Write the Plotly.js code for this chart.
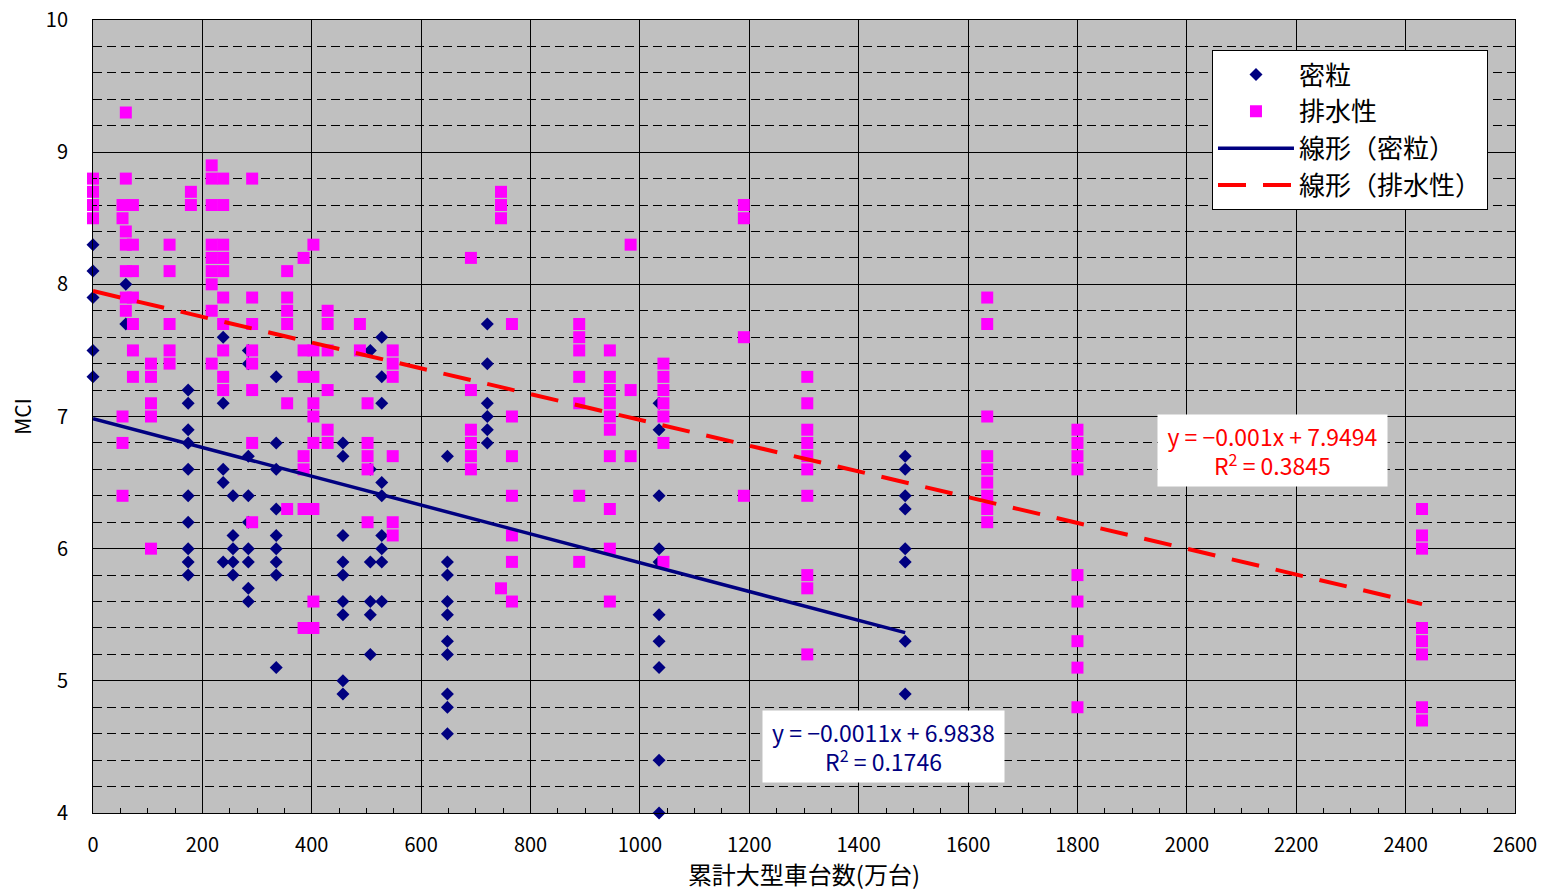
<!DOCTYPE html>
<html><head><meta charset="utf-8">
<script src="https://cdn.plot.ly/plotly-3.0.1.min.js"></script>
<style>html,body{margin:0;padding:0;background:#fff}#chart{width:1543px;height:891px}</style>
</head><body><div id="chart"></div>
<script>
const FONT = '"Noto Sans CJK JP", "Noto Sans", sans-serif';

// 密粒: cumulative heavy vehicles (x) per column and MCI values at that x
const denseX = [0, 60, 174, 238, 256, 284, 335, 457, 507, 528, 648, 721, 1035, 1485];
const denseMCI = [
  [8.3, 8.1, 7.9, 7.5, 7.3],
  [8.0, 7.7],
  [7.2, 7.1, 6.9, 6.8, 6.6, 6.4, 6.2, 6.0, 5.9, 5.8],
  [7.6, 7.1, 6.6, 6.5, 5.9],
  [6.4, 6.1, 6.0, 5.9, 5.8],
  [7.5, 7.4, 6.7, 6.4, 6.2, 6.0, 5.9, 5.7, 5.6],
  [7.3, 6.8, 6.6, 6.3, 6.1, 6.0, 5.9, 5.8, 5.1],
  [6.8, 6.7, 6.1, 5.9, 5.8, 5.6, 5.5, 5.0, 4.9],
  [7.5, 6.6, 5.9, 5.6, 5.5, 5.2],
  [7.6, 7.3, 7.1, 6.5, 6.4, 6.1, 6.0, 5.9, 5.6],
  [6.7, 5.9, 5.8, 5.6, 5.5, 5.3, 5.2, 4.9, 4.8, 4.6],
  [7.7, 7.4, 7.1, 7.0, 6.9, 6.8],
  [7.1, 6.9, 6.4, 6.0, 5.9, 5.5, 5.3, 5.1, 4.4, 4.0],
  [6.7, 6.6, 6.4, 6.3, 6.0, 5.9, 5.3, 4.9]
];

// 排水性
const drainX = [0, 54, 60, 73, 106, 140, 179, 217, 238, 291, 355, 385, 403, 429, 488, 502, 548, 691, 746, 766, 889, 945, 983, 1043, 1190, 1306, 1635, 1800, 2430];
const drainMCI = [
  [8.8, 8.7, 8.6, 8.5],
  [8.6, 8.5, 7.0, 6.8, 6.4],
  [9.3, 8.8, 8.4, 8.3, 8.1, 7.9, 7.8],
  [8.6, 8.3, 8.1, 7.9, 7.7, 7.5, 7.3],
  [7.4, 7.3, 7.1, 7.0, 6.0],
  [8.3, 8.1, 7.7, 7.5, 7.4],
  [8.7, 8.6],
  [8.9, 8.8, 8.6, 8.3, 8.2, 8.1, 8.0, 7.8, 7.4],
  [8.8, 8.6, 8.3, 8.2, 8.1, 7.9, 7.7, 7.5, 7.3, 7.2],
  [8.8, 7.9, 7.7, 7.5, 7.4, 7.2, 6.8, 6.2],
  [8.1, 7.9, 7.8, 7.7, 7.1, 6.3],
  [8.2, 7.5, 7.3, 6.7, 6.6, 6.3, 5.4],
  [8.3, 7.5, 7.3, 7.1, 7.0, 6.8, 6.3, 5.6, 5.4],
  [7.8, 7.7, 7.5, 7.2, 6.9, 6.8],
  [7.7, 7.5],
  [7.1, 6.8, 6.7, 6.6, 6.2],
  [7.5, 7.4, 7.3, 6.7, 6.2, 6.1],
  [8.2, 7.2, 6.9, 6.8, 6.7, 6.6],
  [8.7, 8.6, 8.5, 5.7],
  [7.7, 7.0, 6.7, 6.4, 6.1, 5.9, 5.6],
  [7.7, 7.6, 7.5, 7.3, 7.1, 6.4, 5.9],
  [7.5, 7.3, 7.2, 7.1, 7.0, 6.9, 6.7, 6.3, 6.0, 5.6],
  [8.3, 7.2, 6.7],
  [7.4, 7.3, 7.2, 7.1, 7.0, 6.8, 5.9],
  [8.6, 8.5, 7.6, 6.4],
  [7.3, 7.1, 6.9, 6.8, 6.7, 6.6, 6.4, 5.8, 5.7, 5.2],
  [7.9, 7.7, 7.0, 6.7, 6.6, 6.5, 6.4, 6.3, 6.2],
  [6.9, 6.8, 6.7, 6.6, 5.8, 5.6, 5.3, 5.1, 4.8],
  [6.3, 6.1, 6.0, 5.4, 5.3, 5.2, 4.8, 4.7]
];

const seriesNames = ['密粒', '排水性', '線形（密粒）', '線形（排水性）'];
const trendSlope = [-0.00109, -0.000975];
const trendIntercept = [6.9838, 7.9494];
const eqLines = ['y = −0.0011x + 6.9838', 'y = −0.001x + 7.9494'];
const r2Values = ['0.1746', '0.3845'];
const xTicks = [0, 200, 400, 600, 800, 1000, 1200, 1400, 1600, 1800, 2000, 2200, 2400, 2600];
const yTicks = [4, 5, 6, 7, 8, 9, 10];
const xTitle = '累計大型車台数(万台)';
const yTitle = 'MCI';

function flatten(xs, groups) {
  const X = [], Y = [];
  xs.forEach((x, i) => groups[i].forEach(v => { X.push(x); Y.push(v); }));
  return {X, Y};
}
const d = flatten(denseX, denseMCI);
const p = flatten(drainX, drainMCI);

function trend(X, k) {
  const x0 = Math.min(...X), x1 = Math.max(...X);
  return {x: [x0, x1], y: [trendIntercept[k] + trendSlope[k] * x0, trendIntercept[k] + trendSlope[k] * x1]};
}
const td = trend(d.X, 0), tp = trend(p.X, 1);

const NAVY = '#000080', PINK = '#FF00FF', RED = '#FF0000';

const traces = [
  {x: d.X, y: d.Y, name: seriesNames[0], type: 'scatter', mode: 'markers', cliponaxis: false,
   marker: {symbol: 'diamond', size: 10, color: NAVY, line: {width: 0}}},
  {x: p.X, y: p.Y, name: seriesNames[1], type: 'scatter', mode: 'markers', cliponaxis: false,
   marker: {symbol: 'square', size: 12, color: PINK, line: {width: 0}}},
  {x: td.x, y: td.y, name: seriesNames[2], type: 'scatter', mode: 'lines',
   line: {color: NAVY, width: 3.5}},
  {x: tp.x, y: tp.y, name: seriesNames[3], type: 'scatter', mode: 'lines',
   line: {color: RED, width: 4, dash: '28px,17px'}}
];

const layout = {
  width: 1543, height: 891,
  margin: {l: 93, r: 28, t: 20, b: 78},
  paper_bgcolor: '#FFFFFF',
  plot_bgcolor: '#C0C0C0',
  font: {family: FONT, size: 20, color: '#000'},
  showlegend: true,
  legend: {
    x: 0.981, xanchor: 'right', y: 0.962, yanchor: 'top',
    bgcolor: '#FFFFFF', bordercolor: '#000', borderwidth: 1,
    font: {family: FONT, size: 26, color: '#000'},
    itemwidth: 76, tracegroupgap: 0
  },
  xaxis: {
    range: [0, 2600], tickvals: xTicks, ticktext: xTicks.map(String),
    showgrid: true, gridcolor: '#000', gridwidth: 1, zeroline: false,
    showline: true, linecolor: '#000', linewidth: 1, mirror: true,
    ticks: 'inside', ticklen: 6, tickcolor: '#000',
    ticklabelstandoff: 14,
    minor: {dtick: 50, ticks: 'inside', ticklen: 5, tickcolor: '#000', showgrid: false},
    tickfont: {family: FONT, size: 20, color: '#000'},
    title: {text: xTitle, font: {family: FONT, size: 24, color: '#000'}, standoff: 4}
  },
  yaxis: {
    range: [4, 10], tickvals: yTicks, ticktext: yTicks.map(String),
    showgrid: true, gridcolor: '#000', gridwidth: 1, zeroline: false,
    showline: true, linecolor: '#000', linewidth: 1, mirror: true,
    ticks: 'inside', ticklen: 6, tickcolor: '#000',
    ticklabelstandoff: 20,
    minor: {dtick: 0.2, showgrid: true, gridcolor: '#000', gridwidth: 1, griddash: '9px,5px', ticks: 'inside', ticklen: 4, tickcolor: '#000'},
    tickfont: {family: FONT, size: 20, color: '#000'},
    title: {text: yTitle, font: {family: FONT, size: 21, color: '#000'}, standoff: 8}
  },
  annotations: [
    {xref: 'x', yref: 'y', x: 1445, y: 4.50, showarrow: false,
     text: eqLines[0] + '<br>R<sup>2</sup> = ' + r2Values[0],
     font: {family: FONT, size: 23, color: NAVY}, align: 'center',
     bgcolor: '#FFFFFF', borderpad: 4, width: 233, height: 63},
    {xref: 'x', yref: 'y', x: 2157, y: 6.74, showarrow: false,
     text: eqLines[1] + '<br>R<sup>2</sup> = ' + r2Values[1],
     font: {family: FONT, size: 23, color: RED}, align: 'center',
     bgcolor: '#FFFFFF', borderpad: 4, width: 221, height: 63}
  ]
};

Plotly.newPlot('chart', traces, layout, {displayModeBar: false, staticPlot: true});
</script>
</body></html>
